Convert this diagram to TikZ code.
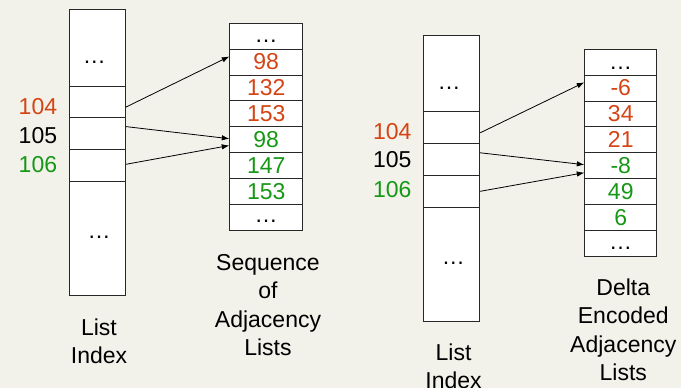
\documentclass[tikz,border=0pt]{standalone}
\usepackage{fontspec}
\setmainfont{Liberation Sans}
\usetikzlibrary{arrows.meta,calc}
\definecolor{bg}{RGB}{242,241,234}
\definecolor{redo}{RGB}{212,68,20}
\definecolor{grn}{RGB}{22,152,22}
\definecolor{edgec}{RGB}{40,40,40}
\begin{document}
\begin{tikzpicture}[x=1pt,y=-1pt,
  font=\fontsize{23}{28.5}\selectfont,
  cellbox/.style={draw=edgec,fill=white,line width=0.9pt,inner sep=0pt,anchor=north west},
  seqcell/.style={cellbox,minimum width=73pt,minimum height=25.9pt},
  delcell/.style={cellbox,minimum width=72pt,minimum height=25.9pt},
  dotsnode/.style={inner sep=0pt},
  lbl/.style={inner sep=0pt,anchor=east},
  caption/.style={inner sep=0pt,anchor=north,align=center},
  arr/.style={line width=0.8pt,draw=black,-{Latex[length=7.5pt,width=5.5pt]}}]
\fill[bg] (0,0) rectangle (681,388);
\useasboundingbox (0,0) rectangle (681,388);

% ---------- left list index ----------
\node[cellbox,minimum width=56.3pt,minimum height=76.7pt] (L0) at (68.7,9.3) {};
\node[cellbox,minimum width=56.3pt,minimum height=31.3pt] (L1) at (68.7,86) {};
\node[cellbox,minimum width=56.3pt,minimum height=31.7pt] (L2) at (68.7,117.3) {};
\node[cellbox,minimum width=56.3pt,minimum height=31.7pt] (L3) at (68.7,149) {};
\node[cellbox,minimum width=56.3pt,minimum height=114.3pt] (L4) at (68.7,180.7) {};
\node[dotsnode] (Ld0) at (94.3,62.3) {…};
\node[dotsnode] (Ld1) at (99,237.3) {…};
\node[lbl,text=redo] (l104) at (57.3,106.6) {104};
\node[lbl,text=black] (l105) at (57.3,135.4) {105};
\node[lbl,text=grn] (l106) at (57.3,164.2) {106};
\node[caption] (lcap) at (99,318.3) {List\\Index};

% ---------- sequence of adjacency lists ----------
\node[seqcell] (S0) at (229.3,22.7) {};
\node[seqcell,text=redo] (S1) at (229.3,48.6) {98};
\node[seqcell,text=redo] (S2) at (229.3,74.5) {132};
\node[seqcell,text=redo] (S3) at (229.3,100.4) {153};
\node[seqcell,text=grn] (S4) at (229.3,126.3) {98};
\node[seqcell,text=grn] (S5) at (229.3,152.2) {147};
\node[seqcell,text=grn] (S6) at (229.3,178.1) {153};
\node[seqcell] (S7) at (229.3,204.0) {};
\node[dotsnode] (Sd0) at (266,41.7) {…};
\node[dotsnode] (Sd1) at (266,221.7) {…};
\node[caption] (scap) at (268,254) {Sequence\\of\\Adjacency\\Lists};

\draw[arr] ($(L1.east)+(0,5)$) -- ($(S1.west)+(0,-5.5)$);
\draw[arr] ($(L2.east)+(0,-7)$) -- ($(S4.west)+(0,-1)$);
\draw[arr] ($(L3.east)+(0,-1)$) -- ($(S4.west)+(0,5.8)$);

% ---------- right list index ----------
\node[cellbox,minimum width=56pt,minimum height=76pt] (R0) at (423.3,35) {};
\node[cellbox,minimum width=56pt,minimum height=32.3pt] (R1) at (423.3,111) {};
\node[cellbox,minimum width=56pt,minimum height=31.7pt] (R2) at (423.3,143.3) {};
\node[cellbox,minimum width=56pt,minimum height=31.7pt] (R3) at (423.3,175) {};
\node[cellbox,minimum width=56pt,minimum height=114pt] (R4) at (423.3,206.7) {};
\node[dotsnode] (Rd0) at (449,88.3) {…};
\node[dotsnode] (Rd1) at (453.3,263.3) {…};
\node[lbl,text=redo] (r104) at (411.7,131.7) {104};
\node[lbl,text=black] (r105) at (411.7,159.7) {105};
\node[lbl,text=grn] (r106) at (411.7,189.2) {106};
\node[caption] (rcap) at (453.5,343.3) {List\\Index};

% ---------- delta encoded adjacency lists ----------
\node[delcell] (D0) at (584.3,48.7) {};
\node[delcell,text=redo] (D1) at (584.3,74.6) {-6};
\node[delcell,text=redo] (D2) at (584.3,100.5) {34};
\node[delcell,text=redo] (D3) at (584.3,126.4) {21};
\node[delcell,text=grn] (D4) at (584.3,152.3) {-8};
\node[delcell,text=grn] (D5) at (584.3,178.2) {49};
\node[delcell,text=grn] (D6) at (584.3,204.1) {6};
\node[delcell] (D7) at (584.3,230.0) {};
\node[dotsnode] (Dd0) at (620.7,68.3) {…};
\node[dotsnode] (Dd1) at (620.7,248.3) {…};
\node[caption] (dcap) at (623.3,278.3) {Delta\\Encoded\\Adjacency\\Lists};

\draw[arr] ($(R1.east)+(0,5.2)$) -- ($(D1.west)+(0,-5.6)$);
\draw[arr] ($(R2.east)+(0,-6.8)$) -- ($(D4.west)+(0,-1)$);
\draw[arr] ($(R3.east)+(0,0)$) -- ($(D4.west)+(0,7)$);
\end{tikzpicture}
\end{document}
